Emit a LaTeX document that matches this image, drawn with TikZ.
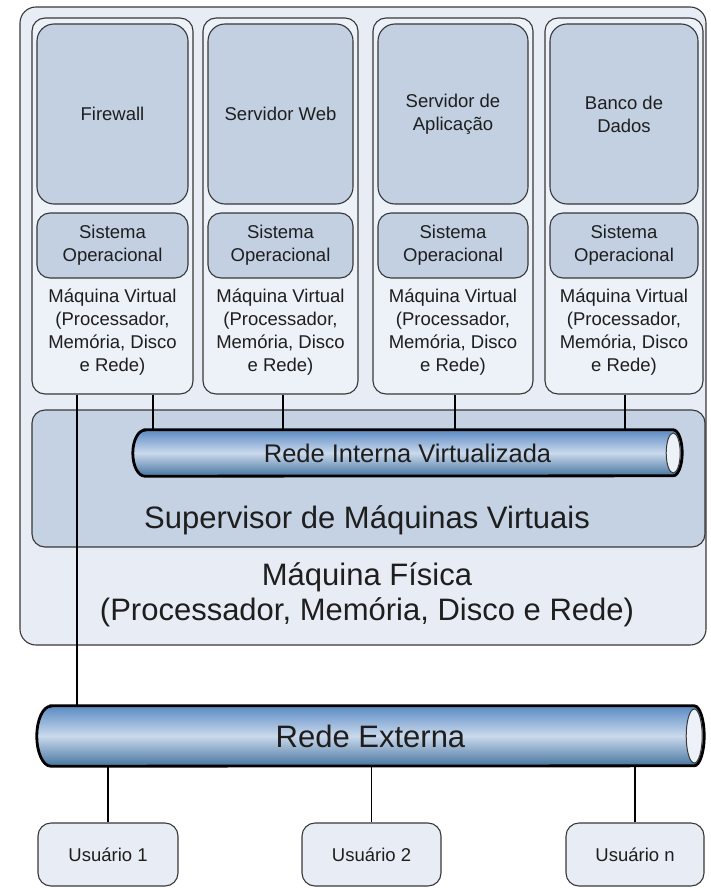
\documentclass[tikz,border=0pt]{standalone}
\usepackage{fontspec}
\setmainfont{Liberation Sans}
\usepackage{xcolor}
\usepackage{tikz}

\definecolor{fisfill}{HTML}{E8EDF5}
\definecolor{vmfill}{HTML}{EDF1F8}
\definecolor{appfill}{HTML}{C2D0E2}
\definecolor{supfill}{HTML}{C4D2E3}
\definecolor{pipetop}{HTML}{5A8AC3}
\definecolor{pipemid}{HTML}{CAD9EC}
\definecolor{pipebot}{HTML}{45749F}
\definecolor{edge}{HTML}{383838}
\definecolor{ink}{HTML}{1E1E1E}

\begin{document}
\begin{tikzpicture}[x=1pt, y=-1pt,
	rbox/.style={draw=edge, line width=1.1pt, rounded corners=13pt, inner sep=0pt, text=ink, align=center},
	vmtext/.style={text=ink, align=center, font=\fontsize{18.5}{23}\selectfont},
	bigtext/.style={text=ink, align=center, font=\fontsize{31}{35}\selectfont},
	link/.style={draw=black, line width=1.4pt},
	tube/.style={draw=black, line width=2.8pt, top color=pipetop, bottom color=pipebot, middle color=pipemid},
	tubeend/.style={draw=edge, line width=1pt, fill=vmfill}]

\useasboundingbox (0,0) rectangle (710,888);

% maquina fisica
\node[rbox, fill=fisfill, rounded corners=16pt, minimum width=686pt, minimum height=638pt] (fis) at (363,326) {};

% maquinas virtuais
\foreach \i/\x/\w/\app in {1/112.5/161/Firewall, 2/280.5/155/Servidor Web, 3/453/160/{Servidor de\\Aplicação}, 4/624/158/{Banco de\\Dados}}
	{
		\node[rbox, fill=vmfill, minimum width=\w pt, minimum height=376pt] (vm\i) at (\x,206) {};
		\node[rbox, fill=appfill, rounded corners=17pt, vmtext, minimum width={(\w-10)*1pt}, minimum height=180pt] (app\i) at (\x,114) {\app};
		\node[rbox, fill=appfill, vmtext, minimum width={(\w-10)*1pt}, minimum height=65pt] (os\i) at (\x,245.5) {Sistema\\Operacional};
		\node[vmtext] (vt\i) at (\x,332) {Máquina Virtual\\(Processador,\\Memória, Disco\\e Rede)};
	}

% supervisor
\node[rbox, fill=supfill, minimum width=673pt, minimum height=137pt] (sup) at (368.5,478.5) {};
\node[bigtext] (suptxt) at (367,520) {Supervisor de Máquinas Virtuais};
\node[bigtext] (fistxt) at (367,594.5) {Máquina Física\\(Processador, Memória, Disco e Rede)};

% redes
\path node[minimum width=549pt, minimum height=46pt, inner sep=0pt] (rint) at (407.5,453) {};
\path node[minimum width=667pt, minimum height=60pt, inner sep=0pt] (rext) at (370.5,736) {};

\foreach \i/\lx in {1/153, 2/283, 3/455, 4/625}
	{
		\coordinate (c\i) at (\lx,0);
		\draw[link] (vm\i.south -| c\i) -- (rint.north -| c\i);
	}

\coordinate (xl) at (77,0);
\draw[link] (vm1.south -| xl) -- (rext.north -| xl);

\path[tube] ([xshift=12pt]rint.north west) -- ([xshift=-9pt]rint.north east)
	arc[start angle=90, end angle=-90, x radius=9pt, y radius=23pt]
	-- ([xshift=12pt]rint.south west)
	arc[start angle=270, end angle=90, x radius=12pt, y radius=23pt] -- cycle;
\draw[tubeend] ([xshift=-9pt]rint.east) ellipse (7pt and 20pt);
\node[text=ink, font=\fontsize{25.5}{30}\selectfont] (rinttxt) at (rint) {Rede Interna Virtualizada};

\path[tube] ([xshift=14pt]rext.north west) -- ([xshift=-10pt]rext.north east)
	arc[start angle=90, end angle=-90, x radius=10pt, y radius=30pt]
	-- ([xshift=14pt]rext.south west)
	arc[start angle=270, end angle=90, x radius=14pt, y radius=30pt] -- cycle;
\draw[tubeend] ([xshift=-10pt]rext.east) ellipse (8pt and 27pt);
\node[bigtext] (rexttxt) at (rext) {Rede Externa};

% usuarios
\foreach \i/\x/\w in {1/108/140, 2/371.5/139, n/635/138}
	{
		\node[rbox, fill=fisfill, vmtext, minimum width=\w pt, minimum height=63pt] (u\i) at (\x,854.5) {Usuário \i};
		\draw[link] (u\i.north) -- (u\i.north |- rext.south);
	}

\end{tikzpicture}
\end{document}
